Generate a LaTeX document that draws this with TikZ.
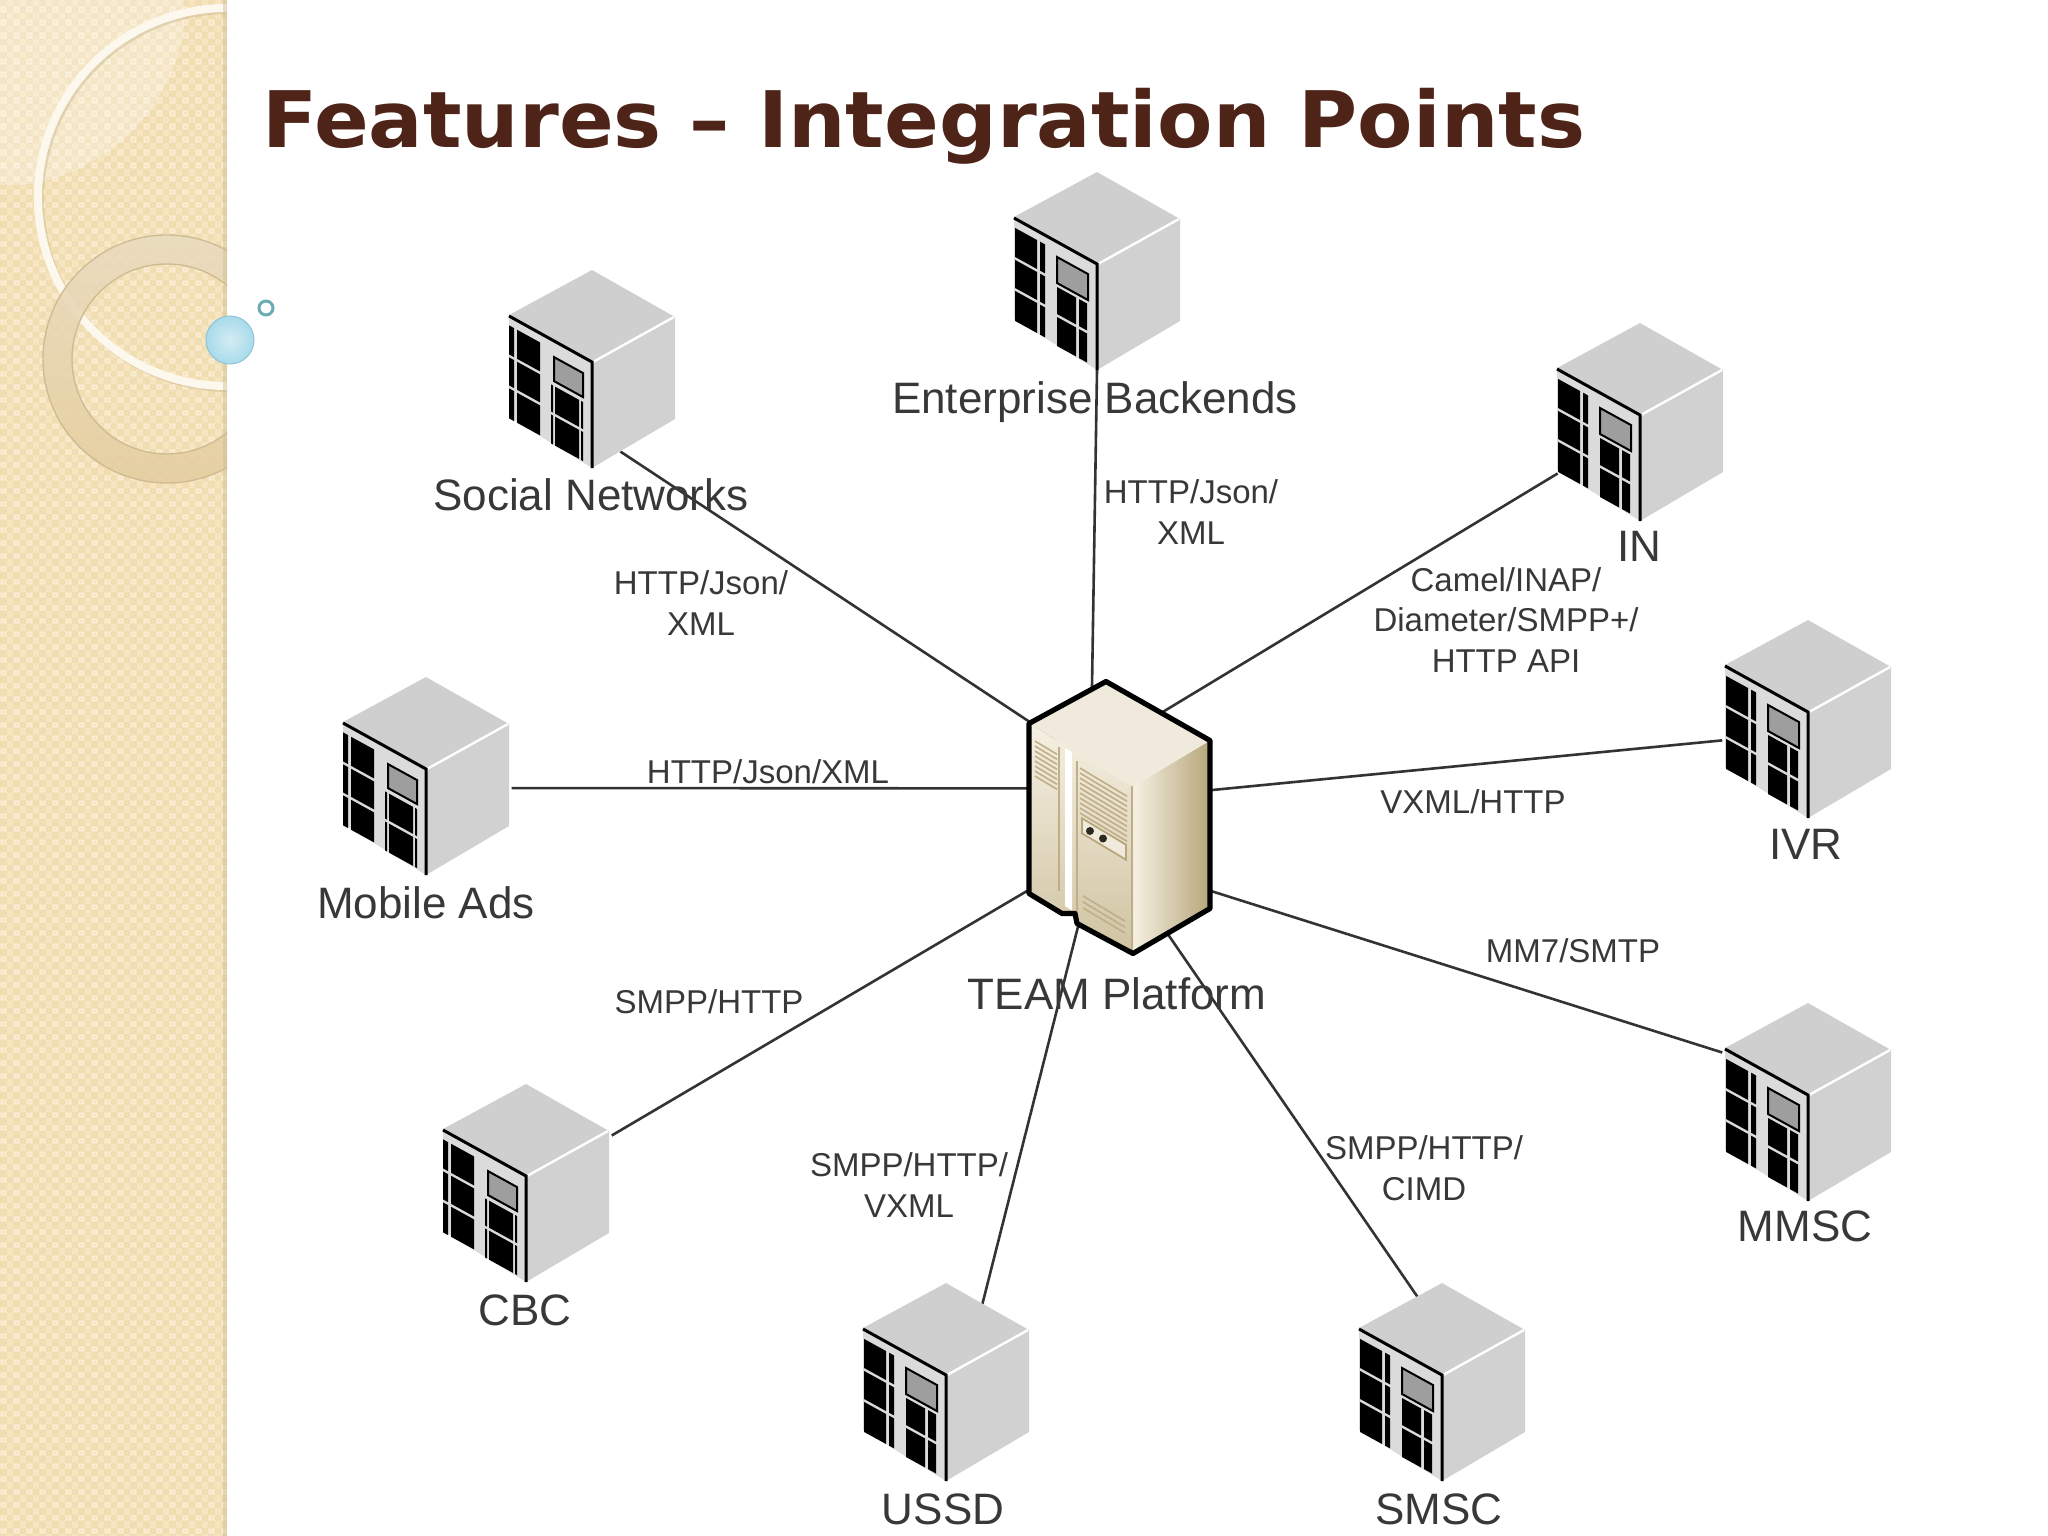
\documentclass[tikz,border=0pt]{standalone}
\usepackage{fontspec}
\setmainfont{Liberation Sans}
\newfontfamily\titlefont[BoldFeatures={FakeStretch=1.035}]{DejaVu Sans}
\usetikzlibrary{shapes.geometric}

\definecolor{panelbase}{HTML}{F6E5C0}
\definecolor{paneldark}{HTML}{F0DDB2}
\definecolor{panelring}{HTML}{FAEFD6}
\definecolor{ringtop}{HTML}{E9DBBF}
\definecolor{ringbottom}{HTML}{E4CE9F}
\definecolor{ringedge}{HTML}{CFBC94}
\definecolor{bubbleinner}{HTML}{D3ECF4}
\definecolor{bubbleouter}{HTML}{A9DAEA}
\definecolor{bubbleedge}{HTML}{8CC6DA}
\definecolor{bubblering}{HTML}{6BAAB4}
\definecolor{titlebrown}{HTML}{4F2418}
\definecolor{linkgrey}{HTML}{333333}
\definecolor{labelgrey}{HTML}{383838}
\definecolor{teamtop}{HTML}{EFEADC}
\definecolor{teamlight}{HTML}{F5F0E2}
\definecolor{teamleft}{HTML}{CFC3A1}
\definecolor{teamright}{HTML}{B7A67B}
\definecolor{teamvent}{HTML}{BFAE88}

\newcommand\serverbody{
	\fill[black!18] (0,-7) -- (83,-52) -- (83,50) -- (0,99) -- cycle;
	\fill[black!19] (-83,-54) -- (0,-99) -- (83,-52) -- (0,-7) -- cycle;
	\fill[black!14] (-83,-54) -- (0,-7) -- (0,99) -- (-83,48) -- cycle;
	\draw[white,line width=2.4pt] (1,-7) -- (82,-52);
	\draw[black,line width=3pt] (-83,-53) -- (0,-7) -- (0,99);
}

\tikzset{
	servernode/.style={regular polygon,regular polygon sides=6,shape border rotate=30,minimum size=198pt,inner sep=0pt,outer sep=0pt},
	teamnode/.style={rectangle,minimum width=184pt,minimum height=153pt,inner sep=0pt,outer sep=0pt},
	linkline/.style={draw=linkgrey,line width=2.6pt},
	servername/.style={text=labelgrey,font=\fontsize{44}{50}\selectfont,inner sep=0pt},
	linkname/.style={text=labelgrey,font=\fontsize{33}{40.5}\selectfont,align=center,inner sep=0pt},
	ventline/.style={draw=teamvent,line width=1.6pt},
	%% slim column on the left of each pair
	pics/serverleft/.style={code={
		\serverbody
		\begin{scope}[yslant=-0.55]
			\foreach \vtop/\vbot in {2/31,34/62,65/95}{
				\fill[black] (-75,\vtop) rectangle (-52,\vbot);
				\fill[black] (-83,\vtop) rectangle (-78,\vbot);
			}
			\foreach \vtop/\vbot in {38/65,68/97}{
				\fill[black] (-37,\vtop) rectangle (-13,\vbot);
				\fill[black] (-41,\vtop) rectangle (-39,\vbot);
				\fill[black] (-11,\vtop) rectangle (-9,\vbot);
			}
			\draw[black,fill=black!38,line width=2pt] (-38,9) rectangle (-9,33);
		\end{scope}
	}},
	%% slim column on the right of each pair
	pics/serverright/.style={code={
		\serverbody
		\begin{scope}[yslant=-0.55]
			\foreach \vtop/\vbot in {2/31,34/62,65/95}{
				\fill[black] (-82,\vtop) rectangle (-60,\vbot);
				\fill[black] (-57,\vtop) rectangle (-52,\vbot);
			}
			\foreach \vtop/\vbot in {38/65,68/97}{
				\fill[black] (-40,\vtop) rectangle (-21,\vbot);
				\fill[black] (-18,\vtop) rectangle (-10,\vbot);
			}
			\draw[black,fill=black!38,line width=2pt] (-40,8) rectangle (-9,34);
		\end{scope}
	}},
	pics/teambox/.style={code={
		\shade[left color=teamlight,right color=teamright] (14,-30) -- (91,-76) -- (91,92) -- (14,137) -- cycle;
		\shade[top color=teamlight,bottom color=teamleft] (-90,-93) -- (14,-30) -- (14,137) -- (-42,107) -- (-44,97) -- (-57,97) -- (-90,77) -- cycle;
		\fill[teamtop] (-13,-135) -- (91,-76) -- (14,-30) -- (-90,-93) -- cycle;
		\begin{scope}[yslant=-0.6]
			\fill[white] (-54,-36) rectangle (-47,122);
			\draw[teamvent,line width=1.4pt] (-42,-30) -- (-42,128);
			\draw[teamvent,line width=1.4pt] (13,-38) -- (13,128);
			\draw[teamvent,line width=1.4pt] (-60,-34) -- (-60,110);
			\foreach \v in {-25,-20,...,10}
				\draw[ventline] (-84,\v) -- (-62,\v);
			\foreach \v in {-25,-20,...,20}
				\draw[ventline] (-39,\v) -- (8,\v);
			\draw[teamright,fill=teamtop,line width=1.8pt] (-37,24) rectangle (7,39);
			\foreach \v in {101,107,113}
				\draw[ventline] (-36,\v) -- (6,\v);
		\end{scope}
		\fill[black!75!teamright] (-29,14.5) circle [radius=4];
		\fill[black!75!teamright] (-16,22) circle [radius=4];
		\draw[black,line width=5.2pt,line join=round] (-13,-135) -- (91,-76) -- (91,92) -- (14,137) -- (-42,107) -- (-44,97) -- (-57,97) -- (-90,77) -- (-90,-93) -- cycle;
	}}
}

\begin{document}
\begin{tikzpicture}[x=1pt,y=-1pt]
	\useasboundingbox (0,0) rectangle (2048,1536);

	%% side panel
	\begin{scope}
		\clip (0,0) rectangle (227,1536);
		\fill[panelbase] (0,0) rectangle (227,1536);
		\foreach \px in {0,13,...,221}
			\foreach \py in {0,13,...,1534}{
				\fill[paneldark] (\px,\py) rectangle +(6.5,6.5);
				\fill[paneldark] (\px+6.5,\py+6.5) rectangle +(6.5,6.5);
				\draw[panelring,line width=1pt] (\px+1.5,\py+8) rectangle +(3.5,3.5);
			}
		\begin{scope}
			\clip (0,0) rectangle (184,184);
			\fill[white,opacity=0.26] (0,0) circle [radius=186];
		\end{scope}
		\draw[ringedge,opacity=0.5,line width=8pt] (229,199) circle [radius=189];
		\draw[white!72!panelbase,line width=8pt] (227,197) circle [radius=189];
		\path[even odd rule,top color=ringtop,bottom color=ringbottom,opacity=0.88] (167,359) circle [radius=124] (167,359) circle [radius=95];
		\draw[ringedge,line width=1.4pt] (167,359) circle [radius=124];
		\draw[ringedge,line width=1.4pt] (167,359) circle [radius=95];
		\fill[ringedge,opacity=0.45] (223,0) rectangle (227,1536);
	\end{scope}
	\shade[inner color=bubbleinner,outer color=bubbleouter,draw=bubbleedge,line width=1pt] (230,340) circle [radius=24];
	\draw[bubblering,line width=3pt] (266,308) circle [radius=7];

	\node[anchor=base west,inner sep=0pt,text=titlebrown,font=\fontsize{78}{90}\selectfont\titlefont\bfseries] (title) at (262,148) {Features – Integration Points};

	%% nodes
	\node[teamnode] (team) at (1119,816.5) {};
	\foreach \servername/\px/\py in {social/592/369,enterprise/1097/271,in/1640/422,ivr/1808/719,mmsc/1808/1102,smsc/1442/1382,ussd/946/1382,cbc/526/1183,mobile/426/776}
		\node[servernode] (\servername) at (\px,\py) {};

	%% connectors
	\draw[linkline] (social.-71.9) -- (team.129.0);
	\draw[linkline] (enterprise.-90) -- (team.110.8);
	\draw[linkline] (in.212.4) -- (team.92.2);
	\draw[linkline] (ivr.194.4) -- (team.16.6);
	\draw[linkline] (mmsc.150.3) -- (team.-39.4);
	\draw[linkline] (smsc.106.8) -- (team.-75.3);
	\draw[linkline] (ussd.65.97) -- (team.247.3);
	\draw[linkline] (cbc.29) -- (team.219.4);
	\draw[linkline] (mobile.-8.6) -- (team.163.4);

	%% boxes
	\pic at (team) {teambox};
	\foreach \servername in {social,cbc,mobile}
		\pic at (\servername) {serverleft};
	\foreach \servername in {enterprise,in,ivr,mmsc,smsc,ussd}
		\pic at (\servername) {serverright};

	%% labels
	\node[servername] (socialname) at (591,495) {Social Networks};
	\node[servername] (enterprisename) at (1095,402) {Enterprise Backends};
	\node[servername] (inname) at (1639,546) {IN};
	\node[servername] (ivrname) at (1806,844) {IVR};
	\node[servername] (mobilename) at (426,903) {Mobile Ads};
	\node[servername] (teamname) at (1117,994) {TEAM Platform};
	\node[servername] (mmscname) at (1805,1226) {MMSC};
	\node[servername] (cbcname) at (525,1310) {CBC};
	\node[servername] (ussdname) at (943,1509) {USSD};
	\node[servername] (smscname) at (1439,1509) {SMSC};

	\node[linkname] (sociallink) at (701,603) {HTTP/Json/\\XML};
	\node[linkname] (enterpriselink) at (1191,512) {HTTP/Json/\\XML};
	\node[linkname] (inlink) at (1506,620) {Camel/INAP/\\Diameter/SMPP+/\\HTTP API};
	\node[linkname] (mobilelink) at (768,772) {HTTP/Json/XML};
	\node[linkname] (ivrlink) at (1473,802) {VXML/HTTP};
	\node[linkname] (mmsclink) at (1573,951) {MM7/SMTP};
	\node[linkname] (cbclink) at (709,1002) {SMPP/HTTP};
	\node[linkname] (ussdlink) at (909,1185) {SMPP/HTTP/\\VXML};
	\node[linkname] (smsclink) at (1424,1168) {SMPP/HTTP/\\CIMD};
\end{tikzpicture}
\end{document}
